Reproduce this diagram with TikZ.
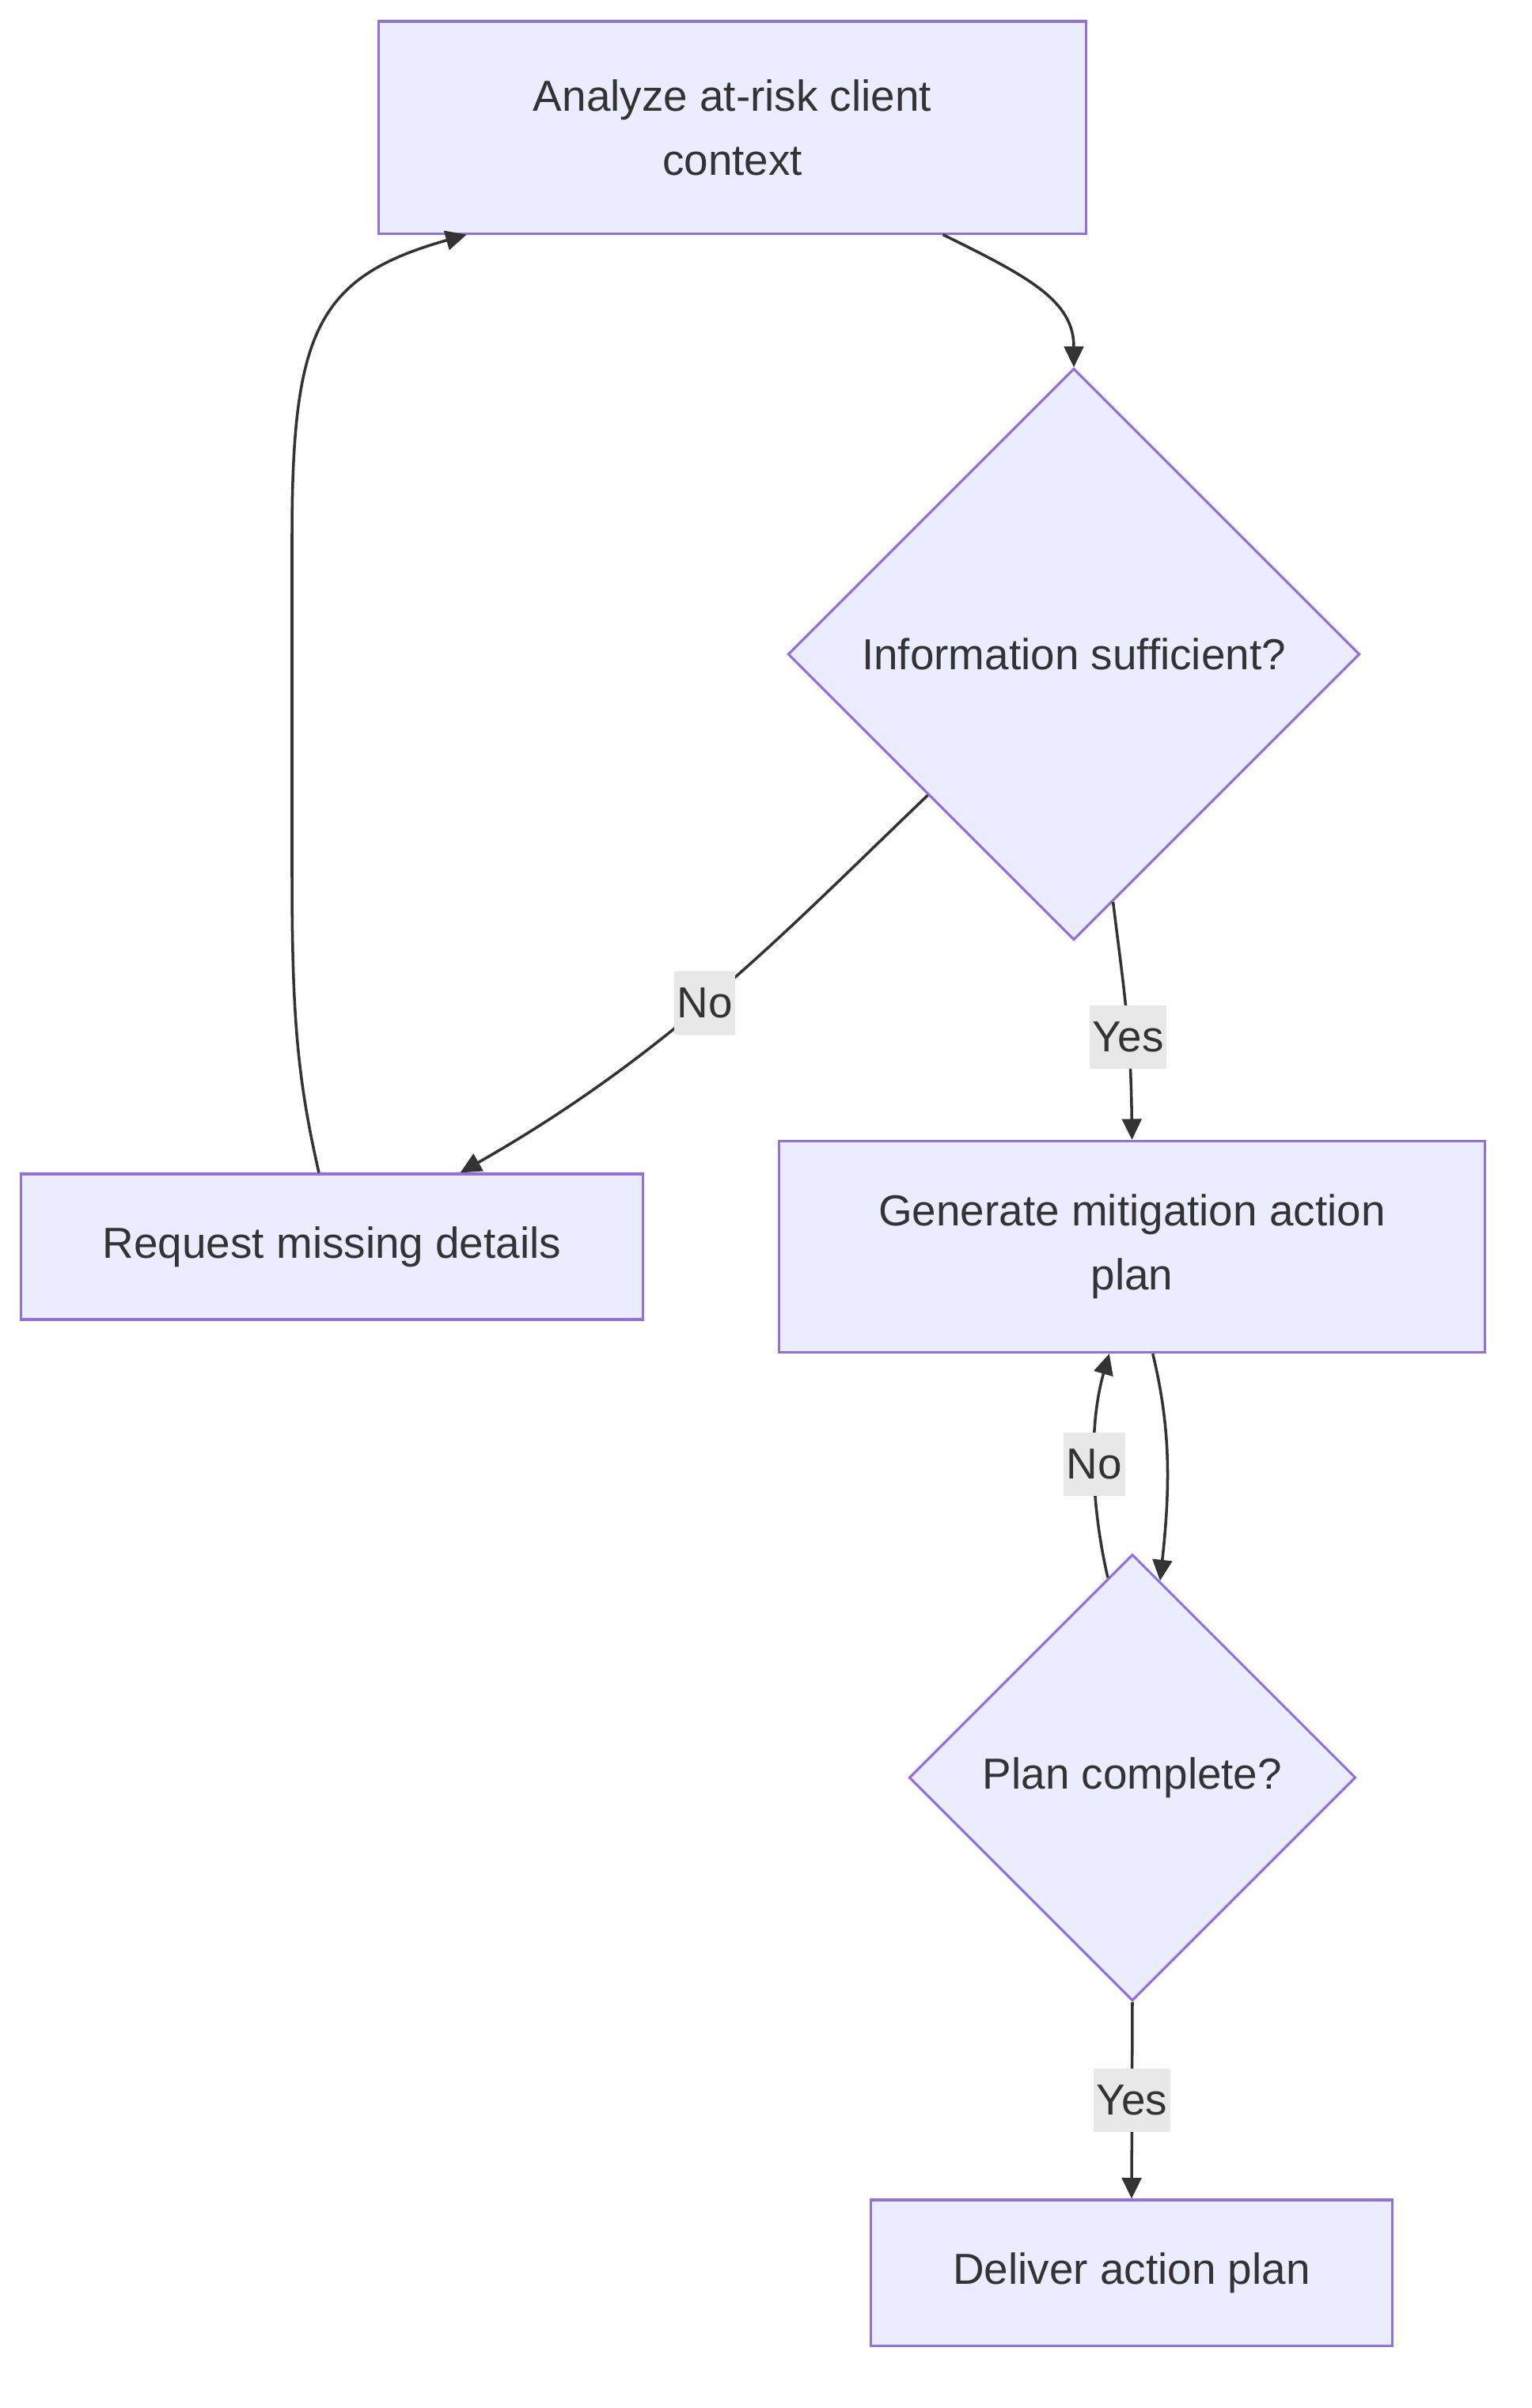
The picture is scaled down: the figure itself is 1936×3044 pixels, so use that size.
\documentclass[tikz,border=0pt]{standalone}
\usepackage{fontspec}
\setmainfont{Liberation Sans}
\usetikzlibrary{shapes.geometric,arrows.meta}
\definecolor{nodefill}{HTML}{ECECFF}
\definecolor{nodeline}{HTML}{9370DB}
\definecolor{edgeline}{HTML}{333333}
\definecolor{lblfill}{HTML}{E8E8E8}
\begin{document}
\begin{tikzpicture}[
    x=0.01cm, y=-0.01cm,
    box/.style n args={2}{draw=nodeline, fill=nodefill, line width=0.9pt, minimum width=#1, minimum height=#2,
                inner sep=0pt, align=center, text=edgeline, font=\fontsize{15.6pt}{23.1pt}\selectfont},
    dia/.style={diamond, draw=nodeline, fill=nodefill, line width=0.9pt, minimum width=#1, minimum height=#1,
                inner sep=0pt, text=edgeline, font=\fontsize{15.6pt}{23.1pt}\selectfont},
    lbl/.style={fill=lblfill, text=edgeline, inner xsep=1pt, inner ysep=0pt, minimum height=0.8cm,
                font=\fontsize{15.6pt}{23.1pt}\selectfont},
    arr/.style={-{Triangle[length=7.5pt,width=7pt]}, line width=1pt, draw=edgeline},
]
\path[fill=white] (0,0) rectangle (1936,3044);
\node[box={8.93cm}{2.68cm}] (an)  at (925.5,161)  {Analyze at-risk client\\context};
\node[dia=7.22cm]           (inf) at (1357,827)   {Information sufficient?};
\node[box={7.85cm}{1.84cm}] (req) at (419.5,1576) {Request missing details};
\node[box={8.92cm}{2.67cm}] (gen) at (1430.5,1576) {Generate mitigation action\\plan};
\node[dia=5.64cm]           (pc)  at (1431,2247)  {Plan complete?};
\node[box={6.58cm}{1.84cm}] (del) at (1430,2873)  {Deliver action plan};
\draw[arr] (an.-27) .. controls (1300,350) and (1357,380) .. (inf.north);
\draw[arr] (inf.-136) .. controls (1000,1170) and (850,1330) .. node[lbl,pos=0.54] {No} (req.30.3);
\draw[arr] (inf.-81.6) .. controls (1420,1250) and (1429,1300) .. node[lbl,pos=0.62] {Yes} (gen.north);
\draw[arr] (req.100.8) .. controls (375,1360) and (369,1280) .. (369,1100) -- (369,680)
    .. controls (369,420) and (400,350) .. (an.-158.6);
\draw[arr] (gen.-79) .. controls (1478,1800) and (1480,1870) .. (pc.82.8);
\draw[arr] (pc.97.4) .. controls (1378,1900) and (1376,1800) .. node[lbl,pos=0.5] {No} (gen.-102);
\draw[arr] (pc.south) -- node[lbl] {Yes} (del.north);
\end{tikzpicture}
\end{document}
